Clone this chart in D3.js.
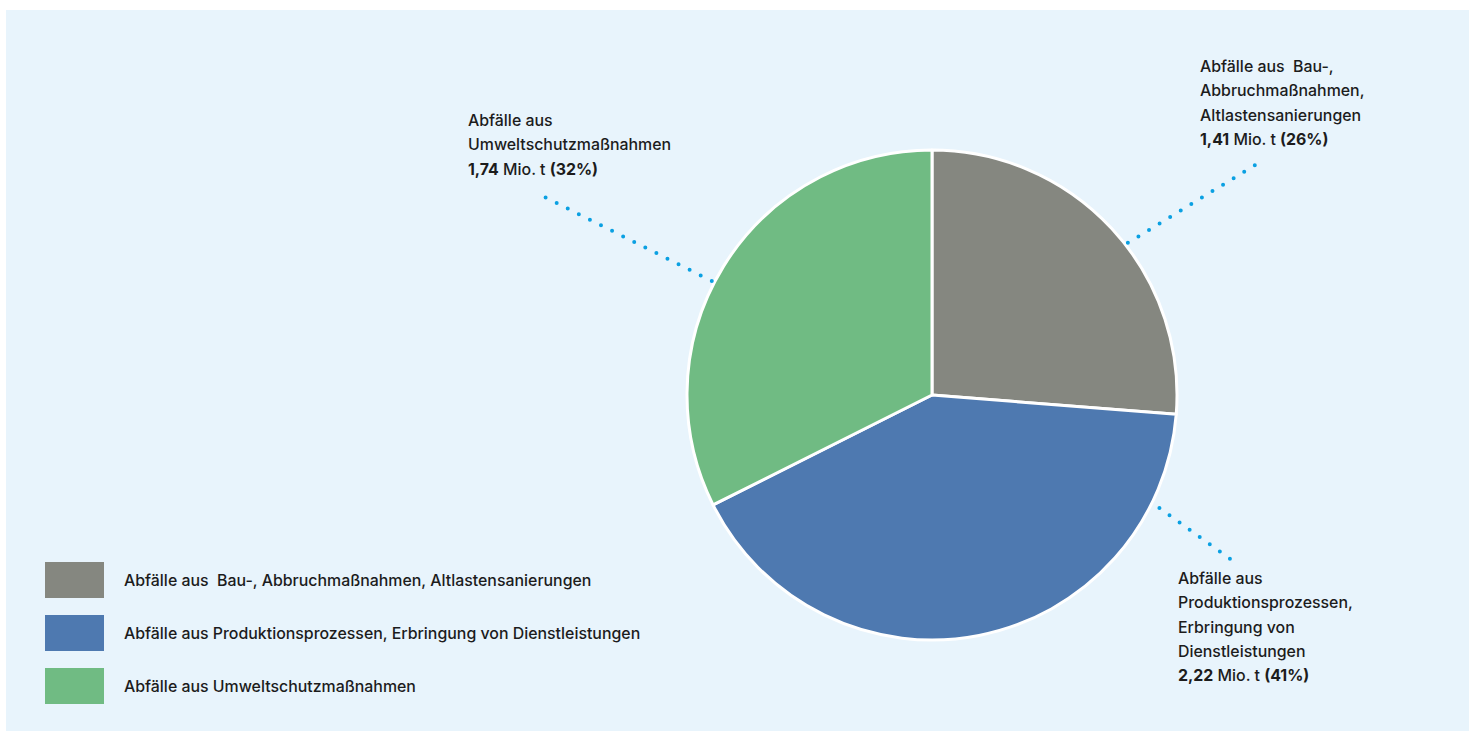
<!DOCTYPE html>
<html>
<head>
<meta charset="utf-8">
<script src="https://cdn.jsdelivr.net/npm/d3@7"></script>
<style>
  html, body { margin: 0; padding: 0; background: #fff; }
  svg { display: block; font-family: "Inter", "Roboto", sans-serif; }
  text { white-space: pre; }
</style>
</head>
<body>
<svg id="chart" width="1469" height="731"></svg>
<script>
// Daten
const categories = [
  'Abfälle aus  Bau-, Abbruchmaßnahmen, Altlastensanierungen',
  'Abfälle aus Produktionsprozessen, Erbringung von Dienstleistungen',
  'Abfälle aus Umweltschutzmaßnahmen'
];
const values = [1.41, 2.22, 1.74];
const valueLabels = ['1,41', '2,22', '1,74'];
const percentLabels = ['26%', '41%', '32%'];
const colors = ['#858780', '#4e79b0', '#70bb83'];
// Beschriftungszeilen neben dem Kreis
const labelLines = [
  ['Abfälle aus  Bau-,', 'Abbruchmaßnahmen,', 'Altlastensanierungen'],
  ['Abfälle aus', 'Produktionsprozessen,', 'Erbringung von', 'Dienstleistungen'],
  ['Abfälle aus', 'Umweltschutzmaßnahmen']
];

const svg = d3.select('#chart');

// Hintergrund
svg.append('rect')
  .attr('x', 6).attr('y', 10)
  .attr('width', 1463).attr('height', 721)
  .attr('fill', '#e8f4fc');

const cx = 932, cy = 395, radius = 245;

const pie = d3.pie().sort(null).value(d => d);
const arcs = pie(values);
const arc = d3.arc().innerRadius(0).outerRadius(radius);

const g = svg.append('g').attr('transform', `translate(${cx},${cy})`);

g.selectAll('path.slice')
  .data(arcs)
  .enter()
  .append('path')
  .attr('class', 'slice')
  .attr('d', arc)
  .attr('fill', (d, i) => colors[i])
  .attr('stroke', '#fff')
  .attr('stroke-width', 3)
  .attr('stroke-linejoin', 'round');

// Hinweislinien (gepunktet), Winkel relativ zur Segmentmitte
const leaderOffsets = [[4.9, 248, 7.3, 397], [-52.5, 254, -50.1, 342], [-4.3, 248, -4.6, 440]];
const toRad = Math.PI / 180;
g.selectAll('line.leader')
  .data(arcs)
  .enter()
  .append('line')
  .attr('class', 'leader')
  .each(function (d, i) {
    const mid = (d.startAngle + d.endAngle) / 2;
    const o = leaderOffsets[i];
    const p1 = d3.pointRadial(mid + o[0] * toRad, o[1]);
    const p2 = d3.pointRadial(mid + o[2] * toRad, o[3]);
    d3.select(this)
      .attr('x1', p1[0]).attr('y1', p1[1])
      .attr('x2', p2[0]).attr('y2', p2[1]);
  })
  .attr('stroke', '#0aa0e2')
  .attr('stroke-width', 4)
  .attr('stroke-linecap', 'round')
  .attr('stroke-dasharray', '0,12.4');

// Beschriftungen
const labelPos = [[1200, 72], [1178, 584], [468, 126]];
const lineH = 24.3;
labelLines.forEach((lines, i) => {
  const t = svg.append('text')
    .attr('x', labelPos[i][0])
    .attr('y', labelPos[i][1])
    .attr('font-size', 15.9)
    .attr('font-weight', 500)
    .attr('fill', '#1c1c1c');
  lines.forEach((l, j) => {
    t.append('tspan')
      .attr('x', labelPos[i][0])
      .attr('dy', j === 0 ? 0 : lineH)
      .text(l);
  });
  const last = t.append('tspan').attr('x', labelPos[i][0]).attr('dy', lineH);
  last.append('tspan').attr('font-weight', 700).text(valueLabels[i]);
  last.append('tspan').text(' Mio. t ');
  last.append('tspan').attr('font-weight', 700).text(`(${percentLabels[i]})`);
});

// Legende
const legend = svg.append('g').attr('transform', 'translate(45,562)');
const item = legend.selectAll('g')
  .data(categories)
  .enter()
  .append('g')
  .attr('transform', (d, i) => `translate(0,${i * 53})`);
item.append('rect')
  .attr('width', 59).attr('height', 36)
  .attr('fill', (d, i) => colors[i]);
item.append('text')
  .attr('x', 79).attr('y', 18)
  .attr('dy', '0.35em')
  .attr('font-size', 15.9)
  .attr('font-weight', 500)
  .attr('fill', '#1c1c1c')
  .text(d => d);
</script>
</body>
</html>
